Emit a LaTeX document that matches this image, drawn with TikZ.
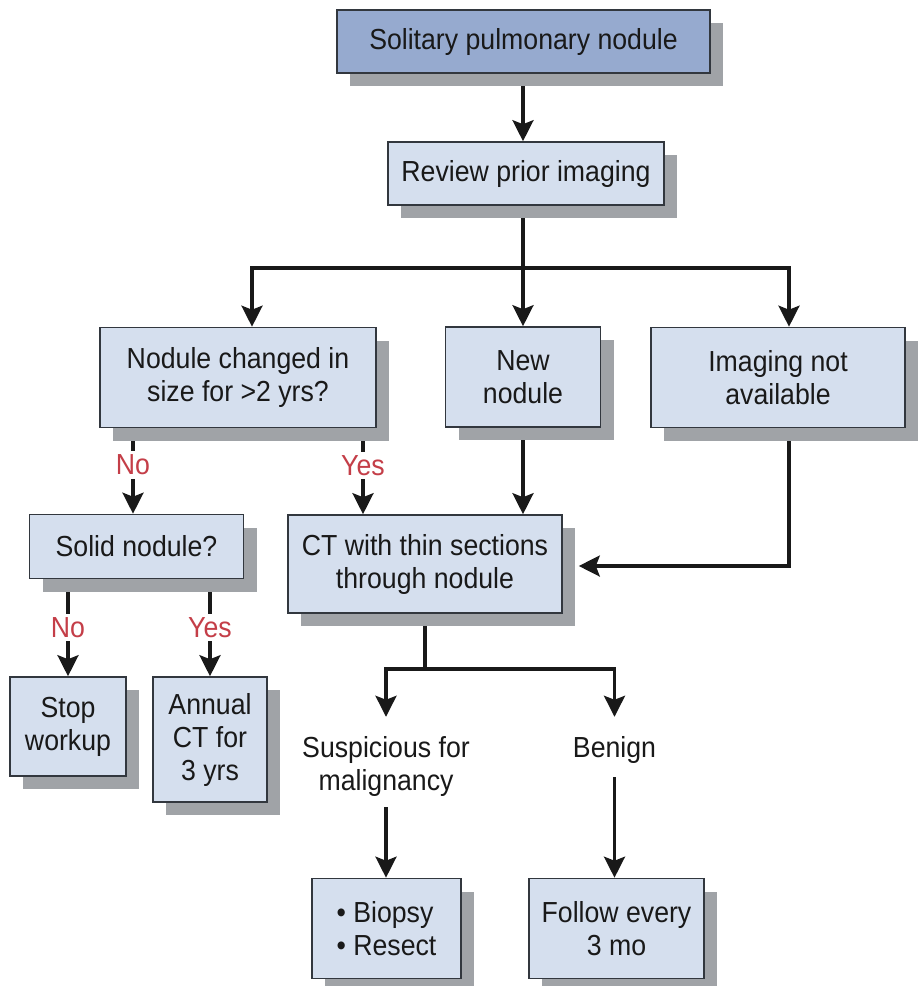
\documentclass[tikz,border=0pt]{standalone}
\usepackage{fontspec}
\setmainfont[FakeStretch=0.92]{Liberation Sans}
\usetikzlibrary{arrows.meta,shadows,backgrounds,calc}
\definecolor{topfill}{RGB}{150,170,207}
\definecolor{boxfill}{RGB}{213,223,238}
\definecolor{boxline}{RGB}{50,55,62}
\definecolor{shadowc}{RGB}{160,163,167}
\definecolor{lblred}{RGB}{196,62,72}
\definecolor{ink}{RGB}{25,25,25}
\newcommand\fs{\fontsize{29}{33}\selectfont}
\tikzset{
 box/.style={draw=boxline, line width=1.6pt, fill=boxfill, inner sep=0pt, align=center, font=\fs, text=ink,
   drop shadow={shadow xshift=13pt, shadow yshift=-13pt, fill=shadowc, opacity=1}},
 conn/.style={draw=ink, line width=3.3pt},
 arr/.style={conn, -{Stealth[length=21pt,width=21pt,inset=4pt]}},
 lbl/.style={font=\fs, text=lblred, fill=white, inner sep=3.5pt},
 plain/.style={font=\fs, text=ink, align=center, inner sep=0pt},
}
\begin{document}
\begin{tikzpicture}[x=1pt,y=-1pt]
\useasboundingbox (0,0) rectangle (923,986);
% boxes
\node[box, fill=topfill, minimum width=373pt, minimum height=63pt] (top) at (523.5,41.5) {Solitary pulmonary nodule};
\node[box, minimum width=276pt, minimum height=63pt] (review) at (526,173.5) {Review prior imaging};
\node[box, minimum width=276pt, minimum height=100pt] (changed) at (238,377.5) {Nodule changed in\\size for >2 yrs?};
\node[box, minimum width=155pt, minimum height=100pt] (new) at (523,377) {New\\nodule};
\node[box, minimum width=254pt, minimum height=100pt] (notavail) at (778,377.5) {Imaging not\\available};
\node[box, minimum width=214pt, minimum height=64pt] (solid) at (136.5,546.5) {Solid nodule?};
\node[box, minimum width=274pt, minimum height=98pt] (ct) at (425,564) {CT with thin sections\\through nodule};
\node[box, minimum width=116pt, minimum height=99pt] (stop) at (68,726.5) {Stop\\workup};
\node[box, minimum width=114pt, minimum height=125pt] (annual) at (210,739.5) {Annual\\CT for\\3 yrs};
\node[box, align=left, minimum width=149pt, minimum height=100pt] (biopsy) at (386.5,928.5) {\textbullet{} Biopsy\\\textbullet{} Resect};
\node[box, minimum width=175pt, minimum height=100pt] (follow) at (616.5,928.5) {Follow every\\3 mo};
\node[plain] (susp) at (386,766) {Suspicious for\\malignancy};
\node[plain] (benign) at (614.5,749.5) {Benign};
% fork coordinates
\coordinate (f1) at (523,268);
\coordinate (fl) at (252,268);
\coordinate (fr) at (789,268);
\coordinate (nx) at (133,0);
\coordinate (yx) at (363,0);
\coordinate (cf) at (425,669);
\coordinate (cl) at (386,669);
\coordinate (cr) at (614.5,669);
\coordinate (turn) at (789,566);
% arrow into CT box, ending at the edge of its shadow
\draw[arr] (turn) -- ([xshift=16pt]turn -| ct.east);
\begin{pgfonlayer}{background}
\fill[white] (0,0) rectangle (923,986);
\draw[arr] (f1 |- top.south) -- (f1 |- review.north);
\draw[conn] (f1 |- review.south) -- (f1);
\draw[conn, line cap=rect] (fl) -- (fr);
\draw[arr] (fl) -- (fl |- changed.north);
\draw[arr] (f1) -- (f1 |- new.north);
\draw[arr] (fr) -- (fr |- notavail.north);
\draw[arr] (nx |- changed.south) -- node[lbl,pos=0.43]{No} (nx |- solid.north);
\draw[arr] (yx |- changed.south) -- node[lbl,pos=0.43]{Yes} (yx |- ct.north);
\draw[arr] (f1 |- new.south) -- (f1 |- ct.north);
\draw[conn, line cap=rect] (fr |- notavail.south) -- (turn);
\draw[arr] (stop.north |- solid.south) -- node[lbl,pos=0.5]{No} (stop.north);
\draw[arr] (annual.north |- solid.south) -- node[lbl,pos=0.5]{Yes} (annual.north);
\draw[conn] (cf |- ct.south) -- (cf);
\draw[conn, line cap=rect] (cl) -- (cr);
\draw[arr, shorten >=19pt] (cl) -- (susp.north);
\draw[arr, shorten >=19pt] (cr) -- (benign.north);
\draw[arr, shorten <=11pt] (susp.south) -- (susp.south |- biopsy.north);
\draw[arr, shorten <=14pt] (benign.south) -- (benign.south |- follow.north);
\end{pgfonlayer}
\end{tikzpicture}
\end{document}
